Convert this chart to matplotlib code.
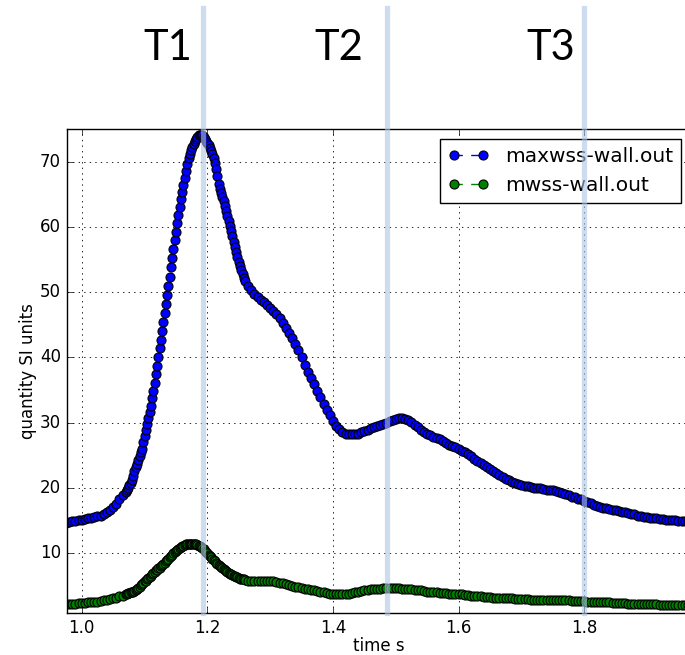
import numpy as np
import matplotlib
matplotlib.use("Agg")
import matplotlib.pyplot as plt

# sampled wall shear stress output, read off the picture
# (solver writes every 0.005 s, every 0.002 s around the systolic peak)
time_s = [
    0.975, 0.980, 0.985, 0.990, 0.995, 1.000, 1.005, 1.010, 1.015, 1.020,
    1.025, 1.030, 1.035, 1.040, 1.045, 1.050, 1.055, 1.060, 1.065, 1.070,
    1.072, 1.074, 1.076, 1.078,
    1.080, 1.082, 1.084, 1.086, 1.088, 1.090, 1.092, 1.094, 1.096, 1.098,
    1.100, 1.102, 1.104, 1.106, 1.108, 1.110, 1.112, 1.114, 1.116, 1.118,
    1.120, 1.122, 1.124, 1.126, 1.128, 1.130, 1.132, 1.134, 1.136, 1.138,
    1.140, 1.142, 1.144, 1.146, 1.148, 1.150, 1.152, 1.154, 1.156, 1.158,
    1.160, 1.162, 1.164, 1.166, 1.168, 1.170, 1.172, 1.174, 1.176, 1.178,
    1.180, 1.182, 1.184, 1.186, 1.188, 1.190, 1.192, 1.194, 1.196, 1.198,
    1.200, 1.202, 1.204, 1.206, 1.208, 1.210, 1.212, 1.214, 1.216, 1.218,
    1.220, 1.222, 1.224, 1.226, 1.228, 1.230, 1.232, 1.234, 1.236, 1.238,
    1.240, 1.242, 1.244, 1.246, 1.248, 1.250,
    1.252, 1.254, 1.256, 1.258, 1.260, 1.265, 1.270,
    1.275, 1.280, 1.285, 1.290, 1.295, 1.300, 1.305, 1.310, 1.315, 1.320,
    1.325, 1.330, 1.335, 1.340, 1.345, 1.350, 1.355, 1.360, 1.365, 1.370,
    1.375, 1.380, 1.385, 1.390, 1.395, 1.400, 1.405, 1.410, 1.415, 1.420,
    1.425, 1.430, 1.435, 1.440, 1.445, 1.450, 1.455, 1.460, 1.465, 1.470,
    1.475, 1.480, 1.485, 1.490, 1.495, 1.500, 1.505, 1.510, 1.515, 1.520,
    1.525, 1.530, 1.535, 1.540, 1.545, 1.550, 1.555, 1.560, 1.565, 1.570,
    1.575, 1.580, 1.585, 1.590, 1.595, 1.600, 1.605, 1.610, 1.615, 1.620,
    1.625, 1.630, 1.635, 1.640, 1.645, 1.650, 1.655, 1.660, 1.665, 1.670,
    1.675, 1.680, 1.685, 1.690, 1.695, 1.700, 1.705, 1.710, 1.715, 1.720,
    1.725, 1.730, 1.735, 1.740, 1.745, 1.750, 1.755, 1.760, 1.765, 1.770,
    1.775, 1.780, 1.785, 1.790, 1.795, 1.800, 1.805, 1.810, 1.815, 1.820,
    1.825, 1.830, 1.835, 1.840, 1.845, 1.850, 1.855, 1.860, 1.865, 1.870,
    1.875, 1.880, 1.885, 1.890, 1.895, 1.900, 1.905, 1.910, 1.915, 1.920,
    1.925, 1.930, 1.935, 1.940, 1.945, 1.950, 1.955, 1.960, 1.965,
]

maxwss = [
    14.6, 14.7, 14.8, 14.9, 15.0, 15.1, 15.2, 15.3, 15.4, 15.5,
    15.6, 15.7, 15.9, 16.2, 16.5, 17.0, 17.5, 18.2, 18.8, 19.4,
    19.7, 20.0, 20.4, 20.7,
    21.1, 21.8, 22.5, 23.1, 23.7, 24.2, 24.8, 25.4, 26.0, 27.0,
    28.0, 28.9, 29.8, 30.7, 31.6, 32.6, 33.7, 34.9, 36.1, 37.4,
    38.7, 40.0, 41.4, 42.7, 44.0, 45.4, 46.8, 48.2, 49.6, 51.0,
    52.4, 53.9, 55.3, 56.7, 58.0, 59.3, 60.6, 61.9, 63.1, 64.3,
    65.4, 66.5, 67.6, 68.7, 69.7, 70.6, 71.3, 71.9, 72.4, 72.8,
    73.2, 73.6, 73.9, 74.1, 74.2, 74.2, 74.1, 73.9, 73.6, 73.3,
    73.0, 72.6, 72.2, 71.7, 71.2, 70.6, 69.8, 68.9, 67.8, 66.7,
    65.9, 65.3, 64.7, 64.1, 63.3, 62.5, 61.7, 60.9, 60.2, 59.4,
    58.6, 57.8, 57.0, 56.2, 55.4, 54.6,
    54.0, 53.4, 52.8, 52.2, 51.7, 50.9, 50.3,
    49.8, 49.3, 48.9, 48.5, 48.0, 47.6, 47.2, 46.7, 46.1, 45.3,
    44.6, 43.7, 43.0, 42.1, 41.2, 40.0, 38.9, 37.8, 36.8, 35.9,
    34.9, 33.9, 32.9, 32.0, 31.1, 30.2, 29.5, 29.0, 28.6, 28.3,
    28.2, 28.2, 28.2, 28.3, 28.5, 28.7, 28.9, 29.1, 29.3, 29.4,
    29.6, 29.8, 30.0, 30.2, 30.4, 30.6, 30.7, 30.7, 30.6, 30.4,
    30.1, 29.7, 29.3, 28.9, 28.6, 28.3, 28.1, 27.8, 27.6, 27.4,
    27.1, 26.9, 26.6, 26.4, 26.2, 26.0, 25.7, 25.4, 25.1, 24.8,
    24.4, 24.1, 23.8, 23.5, 23.2, 22.9, 22.6, 22.3, 22.0, 21.7,
    21.4, 21.1, 20.9, 20.7, 20.5, 20.4, 20.3, 20.2, 20.1, 20.0,
    20.0, 19.9, 19.8, 19.7, 19.7, 19.6, 19.5, 19.4, 19.2, 19.0,
    18.8, 18.6, 18.5, 18.3, 18.2, 18.0, 17.8, 17.6, 17.4, 17.2,
    17.1, 16.9, 16.8, 16.7, 16.6, 16.5, 16.4, 16.3, 16.2, 16.1,
    16.0, 15.9, 15.7, 15.6, 15.5, 15.5, 15.4, 15.3, 15.3, 15.2,
    15.2, 15.1, 15.1, 15.0, 15.0, 14.9, 14.9, 14.8, 14.8,
]

mwss = [
    2.1, 2.1, 2.2, 2.2, 2.3, 2.3, 2.3, 2.4, 2.4, 2.5,
    2.5, 2.6, 2.7, 2.8, 2.9, 3.0, 3.1, 3.3, 3.4, 3.6,
    3.7, 3.8, 3.8, 3.9,
    3.9, 4.0, 4.1, 4.3, 4.4, 4.6, 4.8, 5.0, 5.2, 5.4,
    5.6, 5.7, 5.9, 6.1, 6.3, 6.5, 6.7, 6.9, 7.1, 7.3,
    7.4, 7.6, 7.7, 7.9, 8.1, 8.3, 8.5, 8.7, 8.9, 9.1,
    9.3, 9.5, 9.7, 9.9, 10.1, 10.3, 10.4, 10.6, 10.8, 10.9,
    11.0, 11.1, 11.2, 11.3, 11.3, 11.4, 11.4, 11.4, 11.4, 11.4,
    11.3, 11.3, 11.2, 11.1, 11.0, 10.9, 10.7, 10.5, 10.3, 10.1,
    9.9, 9.7, 9.5, 9.3, 9.1, 8.9, 8.7, 8.5, 8.3, 8.1,
    7.9, 7.8, 7.6, 7.5, 7.3, 7.2, 7.0, 6.9, 6.8, 6.7,
    6.6, 6.5, 6.4, 6.3, 6.2, 6.1,
    6.0, 6.0, 5.9, 5.9, 5.8, 5.7, 5.7,
    5.7, 5.7, 5.7, 5.7, 5.7, 5.7, 5.6, 5.5, 5.4, 5.3,
    5.2, 5.0, 4.9, 4.8, 4.7, 4.6, 4.5, 4.4, 4.3, 4.2,
    4.1, 4.0, 3.9, 3.8, 3.7, 3.7, 3.6, 3.6, 3.6, 3.6,
    3.7, 3.8, 3.9, 4.0, 4.1, 4.2, 4.3, 4.4, 4.4, 4.5,
    4.5, 4.6, 4.6, 4.6, 4.6, 4.6, 4.6, 4.5, 4.5, 4.4,
    4.4, 4.3, 4.2, 4.2, 4.1, 4.0, 4.0, 3.9, 3.9, 3.8,
    3.8, 3.8, 3.7, 3.7, 3.7, 3.6, 3.6, 3.5, 3.5, 3.4,
    3.4, 3.3, 3.3, 3.2, 3.2, 3.2, 3.1, 3.1, 3.1, 3.0,
    3.0, 3.0, 3.0, 2.9, 2.9, 2.9, 2.9, 2.9, 2.8, 2.8,
    2.8, 2.8, 2.8, 2.8, 2.8, 2.8, 2.7, 2.7, 2.7, 2.7,
    2.7, 2.6, 2.6, 2.6, 2.6, 2.6, 2.5, 2.5, 2.5, 2.5,
    2.4, 2.4, 2.4, 2.4, 2.3, 2.3, 2.3, 2.3, 2.3, 2.2,
    2.2, 2.2, 2.2, 2.2, 2.1, 2.1, 2.1, 2.1, 2.1, 2.0,
    2.0, 2.0, 2.0, 2.0, 2.0, 2.0, 2.0, 2.0, 2.0,
]

series_names = ["maxwss-wall.out", "mwss-wall.out"]
phase_names = ["T1", "T2", "T3"]
phase_times = [1.193, 1.486, 1.800]

plt.style.use("classic")
plt.rcParams["figure.facecolor"] = "white"
plt.rcParams["savefig.facecolor"] = "white"

fig = plt.figure(figsize=(6.85, 6.55), dpi=100)
# axes runs slightly past the right edge, as in the cropped original
ax = fig.add_axes([0.0971, 0.0637, 0.9117, 0.7394])

ax.plot(time_s, maxwss, "o--", color="b", ms=6.5, mec="k", mew=0.8,
        label=series_names[0])
ax.plot(time_s, mwss, "o--", color="g", ms=6.5, mec="k", mew=0.8,
        label=series_names[1])

ax.set_xlim(0.9758, 1.970)
ax.set_ylim(0.7, 75.1)
ax.set_xticks([1.0, 1.2, 1.4, 1.6, 1.8])
ax.set_yticks([10, 20, 30, 40, 50, 60, 70])
ax.grid(True, color="k", linestyle=":", linewidth=0.6)
ax.tick_params(labelsize=12)
ax.set_xlabel("time s", fontsize=12, labelpad=0)
ax.set_ylabel("quantity SI units", fontsize=12, labelpad=2)
ax.spines["right"].set_visible(False)

ax.legend(loc="upper right", numpoints=2, fontsize=14.5, borderaxespad=0.5,
          handlelength=2.0)

# phase markers drawn over the plot and up into the header
for name, t, lx in zip(phase_names, phase_times, [0.162, 0.436, 0.775]):
    ax.axvline(t, ymin=0, ymax=1.25, color="#aec6e6", alpha=0.6, lw=3.8,
               clip_on=False, zorder=6)
    ax.text(lx, 1.167, name, transform=ax.transAxes, ha="center",
            va="center", fontsize=30, family="Lato", color="k")

fig.savefig("out.png", dpi=100)
